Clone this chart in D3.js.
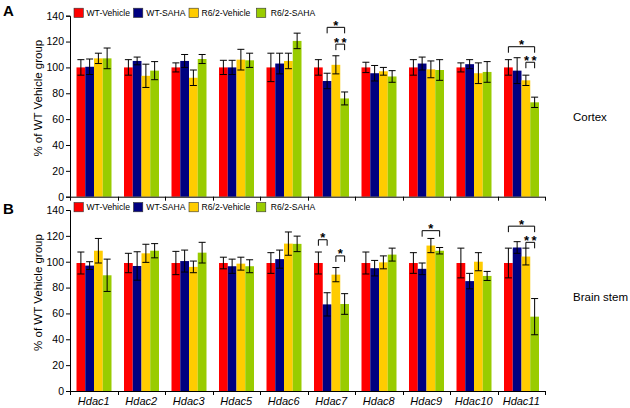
<!DOCTYPE html>
<html>
<head>
<meta charset="utf-8">
<script src="https://cdn.jsdelivr.net/npm/d3@7"></script>
<style>
  html, body { margin: 0; padding: 0; background: #fff; }
  svg { display: block; font-family: "Liberation Sans", Arial, sans-serif; }
</style>
</head>
<body>
<div id="chart"></div>
<script>
// categories and series
const GENES  = ["Hdac1","Hdac2","Hdac3","Hdac5","Hdac6","Hdac7","Hdac8","Hdac9","Hdac10","Hdac11"];
const GROUPS = ["WT-Vehicle","WT-SAHA","R6/2-Vehicle","R6/2-SAHA"];
const COLORS = ["#ff0000","#000080","#ffcc00","#99cc00"];
const Y_TICKS = [0,20,40,60,80,100,120,140];

// Cortex (panel A), % of WT vehicle, mean and error
const cortexWtVeh    = [100,100,100,100,100,100,100,100,100,100];
const cortexWtSaha   = [100.5,105,105,100,103,89.5,95.5,103,102.5,97.5];
const cortexR62Veh   = [107,93.5,92,106,105,102,97,98.5,95.5,90];
const cortexR62Saha  = [107,97.5,106.5,105.5,120.5,76,93,98,96.5,73];
const cortexErrWtVeh   = [6,6,3.5,5.5,11,6,4,6,3.5,6];
const cortexErrWtSaha  = [6,3,5,5.5,8,6,6,5,3.5,10];
const cortexErrR62Veh  = [4,9,6,8,6,7,3,6.5,8,4];
const cortexErrR62Saha = [8,7,3.5,5.5,6,5,4.5,8,8,4];

// Brain stem (panel B)
const stemWtVeh    = [99,99,99,99,99,99,99,99,99,99];
const stemWtSaha   = [97,96.7,100.5,96.5,102,67,95,94.5,85,111];
const stemR62Veh   = [108.5,106.5,96,98.5,114,90,99.5,112.5,100,104];
const stemR62Saha  = [89.5,108.5,107,96.5,113.8,67.3,105.5,108.5,89,57.5];
const stemErrWtVeh   = [8.5,7.5,9,4.5,8,8.5,8.5,8,11.5,11.5];
const stemErrWtSaha  = [3,11,8.5,5.5,7,9,6,4.5,6,4.5];
const stemErrR62Veh  = [9.5,7,4.5,5,9,5.5,5,5.5,7,6.5];
const stemErrR62Saha = [12.5,5.5,8,5,6,8,5,2.5,3.5,14];

// significance brackets: gene, from group, to group, bracket level (y value), label
const cortexSig = [
  ["Hdac7", 1, 3, 131, "*"],
  ["Hdac7", 2, 3, 118, "**"],
  ["Hdac11", 0, 3, 116, "*"],
  ["Hdac11", 2, 3, 104, "**"]
];
const stemSig = [
  ["Hdac7", 0, 1, 117, "*"],
  ["Hdac7", 2, 3, 104.5, "*"],
  ["Hdac9", 1, 3, 124, "*"],
  ["Hdac11", 0, 3, 127.5, "*"],
  ["Hdac11", 2, 3, 115, "**"]
];

const W = 630, H = 408;
const svg = d3.select("#chart").append("svg").attr("width", W).attr("height", H);
svg.append("rect").attr("width", W).attr("height", H).attr("fill", "#fff");

const x = d3.scaleBand().domain(GENES).range([70, 545]);
const xi = d3.scaleBand().domain(d3.range(GROUPS.length)).range([6.5, 41.5]);

function drawPanel(opt) {
  const y = d3.scaleLinear().domain([0, 140]).range([opt.bottom, opt.top]);
  const g = svg.append("g");

  const rows = GENES.map((gene, i) => ({
    gene,
    vals: opt.means.map((s, k) => ({ k, v: s[i], e: opt.errs[k][i] }))
  }));

  // bars
  const grp = g.selectAll("g.gene").data(rows).join("g")
    .attr("class", "gene")
    .attr("transform", d => `translate(${x(d.gene)},0)`);
  grp.selectAll("rect").data(d => d.vals).join("rect")
    .attr("x", d => xi(d.k))
    .attr("width", xi.bandwidth())
    .attr("y", d => y(d.v))
    .attr("height", d => y(0) - y(d.v))
    .attr("fill", d => COLORS[d.k]);

  // error bars
  const eb = grp.selectAll("g.err").data(d => d.vals).join("g").attr("class", "err")
    .attr("stroke", "#000").attr("stroke-width", 1).attr("fill", "none");
  const cx = d => xi(d.k) + xi.bandwidth() / 2;
  eb.append("line").attr("x1", cx).attr("x2", cx)
    .attr("y1", d => y(d.v + d.e)).attr("y2", d => y(d.v - d.e));
  eb.append("line").attr("x1", d => cx(d) - 3.5).attr("x2", d => cx(d) + 3.5)
    .attr("y1", d => y(d.v + d.e)).attr("y2", d => y(d.v + d.e));
  eb.append("line").attr("x1", d => cx(d) - 3.5).attr("x2", d => cx(d) + 3.5)
    .attr("y1", d => y(d.v - d.e)).attr("y2", d => y(d.v - d.e));

  // y axis
  const ya = g.append("g").attr("transform", "translate(70,0)")
    .call(d3.axisLeft(y).tickValues(Y_TICKS).tickSize(4).tickPadding(2));
  ya.select(".domain").attr("stroke", "#000");
  ya.selectAll("text").style("font-size", "10.5px").attr("fill", "#000")
    .style("font-family", "'Liberation Sans', Arial, sans-serif");

  // x axis with ticks at band edges
  const xa = g.append("g");
  xa.append("line").attr("x1", 70).attr("x2", 545)
    .attr("y1", y(0) + 0.5).attr("y2", y(0) + 0.5).attr("stroke", "#000");
  const edges = GENES.map(d => x(d)).concat([x.range()[1]]);
  xa.selectAll("line.tk").data(edges).join("line").attr("class", "tk")
    .attr("x1", d => Math.round(d) + 0.5).attr("x2", d => Math.round(d) + 0.5)
    .attr("y1", y(0)).attr("y2", y(0) + 4).attr("stroke", "#000");
  if (opt.labels) {
    xa.selectAll("text").data(GENES).join("text")
      .attr("x", d => x(d) + x.bandwidth() / 2)
      .attr("y", y(0) + 14)
      .attr("text-anchor", "middle")
      .style("font-size", "11px").style("font-style", "italic")
      .text(d => d);
  }

  // y label
  svg.append("text")
    .attr("transform", `translate(42,${(opt.top + opt.bottom) / 2 - 8}) rotate(-90)`)
    .attr("text-anchor", "middle")
    .style("font-size", "11.5px")
    .text("% of WT Vehicle group");

  // panel letter
  svg.append("text").attr("x", 3).attr("y", opt.letterY)
    .style("font-size", "15px").style("font-weight", "bold").text(opt.letter);

  // right tissue label
  svg.append("text").attr("x", 573).attr("y", opt.sideY)
    .style("font-size", "11.5px").text(opt.side);

  // legend
  const lgX = [74, 133.5, 189, 256.5];
  const lgGap = [12.5, 12.8, 12.6, 14.3];
  const lg = svg.append("g").selectAll("g").data(GROUPS).join("g")
    .attr("transform", (d, i) => `translate(${lgX[i]},${opt.top - 2.8})`);
  lg.append("rect").attr("x", 0).attr("y", -4.7).attr("width", 9.3).attr("height", 9.3)
    .attr("fill", (d, i) => COLORS[i]).attr("stroke", "#333").attr("stroke-width", 0.6);
  lg.append("text").attr("x", (d, i) => lgGap[i]).attr("y", 0).attr("dy", "0.35em")
    .style("font-size", "8.6px").text(d => d);

  // significance brackets
  const sg = g.selectAll("g.sig").data(opt.sig).join("g").attr("class", "sig");
  const bx = (gene, k) => x(gene) + xi(k) + xi.bandwidth() / 2;
  sg.append("path")
    .attr("fill", "none").attr("stroke", "#000").attr("stroke-width", 1)
    .attr("d", d => {
      const x1 = bx(d[0], d[1]), x2 = bx(d[0], d[2]), yy = y(d[3]);
      return `M${x1},${yy + 6}V${yy}H${x2}V${yy + 6}`;
    });
  sg.append("text")
    .attr("x", d => (bx(d[0], d[1]) + bx(d[0], d[2])) / 2)
    .attr("y", d => y(d[3]) + 2.5)
    .attr("text-anchor", "middle")
    .style("font-size", "13px").style("font-weight", "bold")
    .text(d => d[4] === "**" ? "*\u2009*" : d[4]);
}

drawPanel({
  top: 15.7, bottom: 196.7, letter: "A", letterY: 16, side: "Cortex", sideY: 121,
  means: [cortexWtVeh, cortexWtSaha, cortexR62Veh, cortexR62Saha],
  errs: [cortexErrWtVeh, cortexErrWtSaha, cortexErrR62Veh, cortexErrR62Saha],
  sig: cortexSig, labels: false
});
drawPanel({
  top: 210, bottom: 391, letter: "B", letterY: 214, side: "Brain stem", sideY: 301,
  means: [stemWtVeh, stemWtSaha, stemR62Veh, stemR62Saha],
  errs: [stemErrWtVeh, stemErrWtSaha, stemErrR62Veh, stemErrR62Saha],
  sig: stemSig, labels: true
});
</script>
</body>
</html>
